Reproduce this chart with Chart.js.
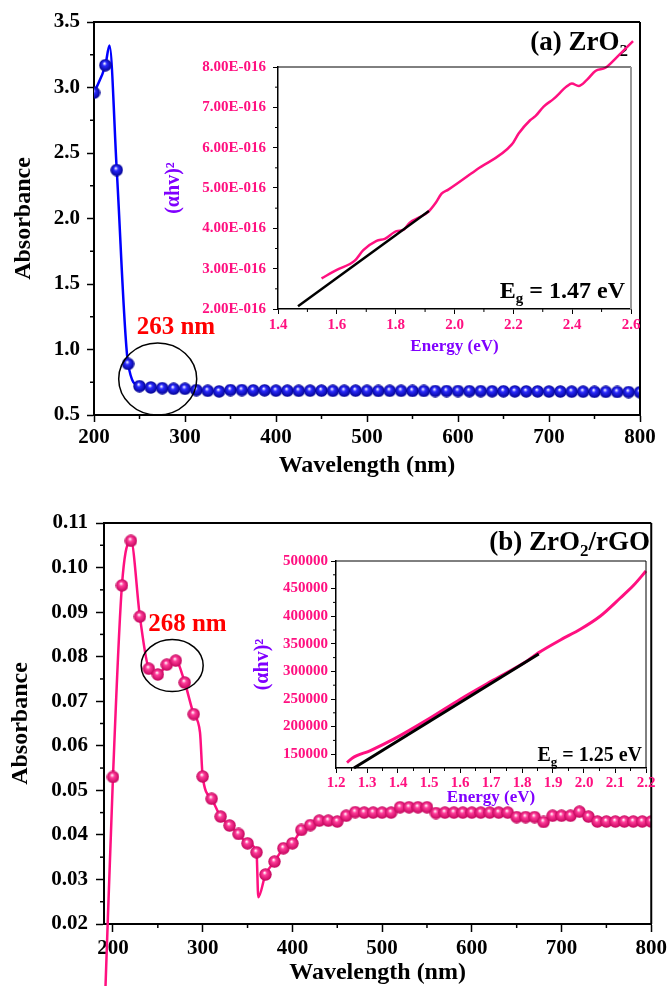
<!DOCTYPE html>
<html>
<head>
<meta charset="utf-8">
<script src="https://cdn.jsdelivr.net/npm/chart.js@4"></script>
<style>
  body { margin: 0; background: #fff; width: 671px; height: 986px; position: relative; overflow: hidden; }
  .box { position: absolute; }
</style>
</head>
<body>
<div class="box" style="left:0;top:0;width:671px;height:490px"><canvas id="main-a"></canvas></div>
<div class="box" style="left:150px;top:40px;width:500px;height:319px"><canvas id="inset-a"></canvas></div>
<div class="box" style="left:0;top:496px;width:671px;height:490px"><canvas id="main-b"></canvas></div>
<div class="box" style="left:240px;top:530px;width:431px;height:278px"><canvas id="inset-b"></canvas></div>
<script>
// ---- data ----
// (a) ZrO2 absorbance, markers every 12.5 nm
const wlA = [200, 212.5, 225, 237.5, 250, 262.5, 275, 287.5, 300, 312.5, 325, 337.5, 350, 362.5, 375, 387.5,
  400, 412.5, 425, 437.5, 450, 462.5, 475, 487.5, 500, 512.5, 525, 537.5, 550, 562.5, 575, 587.5,
  600, 612.5, 625, 637.5, 650, 662.5, 675, 687.5, 700, 712.5, 725, 737.5, 750, 762.5, 775, 787.5, 800];
const absA = [2.96, 3.17, 2.37, 0.89, 0.72, 0.71, 0.705, 0.70, 0.70, 0.69, 0.685, 0.68, 0.69, 0.69, 0.688, 0.688,
  0.686, 0.686, 0.685, 0.686, 0.686, 0.685, 0.685, 0.686, 0.685, 0.684, 0.685, 0.685, 0.684, 0.684, 0.683, 0.683,
  0.683, 0.682, 0.682, 0.681, 0.681, 0.68, 0.68, 0.68, 0.679, 0.679, 0.678, 0.678, 0.677, 0.677, 0.676, 0.675, 0.674];
const lineExtraA = [[217, 3.32]];   // extra points of the curve between markers

// (a) inset: Tauc plot
const inA_E = [1.548, 1.60, 1.661, 1.69, 1.735, 1.763, 1.803, 1.826, 1.848, 1.88, 1.911, 1.935, 1.956, 1.979,
  2.076, 2.195, 2.218, 2.257, 2.275, 2.303, 2.337, 2.382, 2.399, 2.422, 2.45, 2.479, 2.513, 2.553, 2.607];
const inA_val = [2.76, 2.97, 3.20, 3.46, 3.69, 3.74, 3.93, 3.96, 4.14, 4.27, 4.41, 4.62, 4.86, 4.96,
  5.46, 6.08, 6.35, 6.68, 6.78, 7.02, 7.21, 7.52, 7.59, 7.53, 7.68, 7.90, 7.98, 8.25, 8.64].map(v => v * 1e-16);
const fitA_E = [1.468, 1.913];
const fitA_val = [2.07e-16, 4.43e-16];

// (b) ZrO2/rGO absorbance, markers every 10 nm
const wlB = [200, 210, 220, 230, 240, 250, 260, 270, 280, 290, 300, 310, 320, 330, 340, 350, 360, 370, 380, 390,
  400, 410, 420, 430, 440, 450, 460, 470, 480, 490, 500, 510, 520, 530, 540, 550, 560, 570, 580, 590,
  600, 610, 620, 630, 640, 650, 660, 670, 680, 690, 700, 710, 720, 730, 740, 750, 760, 770, 780, 790, 800];
const absB = [0.053, 0.096, 0.106, 0.089, 0.0773, 0.076, 0.0782, 0.0791, 0.0742, 0.0671, 0.0531, 0.0481, 0.0441,
  0.0421, 0.0402, 0.0381, 0.0361, 0.0311, 0.034, 0.037, 0.0381, 0.0411, 0.0422, 0.0432, 0.0432, 0.043,
  0.0443, 0.0451, 0.045, 0.045, 0.045, 0.045, 0.0462, 0.0462, 0.0462, 0.0462, 0.0449, 0.045, 0.045, 0.045,
  0.045, 0.045, 0.045, 0.045, 0.045, 0.044, 0.044, 0.044, 0.0429, 0.0443, 0.0443, 0.0443, 0.0452, 0.0441,
  0.043, 0.043, 0.043, 0.043, 0.043, 0.043, 0.043];
const lineExtraB = [[191.5, 0.005], [297, 0.063], [362, 0.026]];

// (b) inset: Tauc plot
const inB_E = [1.2355, 1.252, 1.311, 1.386, 1.494, 1.601, 1.709, 1.816, 1.854, 1.924, 1.988, 2.053, 2.117,
  2.16, 2.2];
const inB_val = [134900, 142800, 156600, 177200, 212200, 249600, 284600, 319000, 334000, 357000, 376300,
  400400, 433000, 456000, 481900];
const fitB_E = [1.258, 1.854];
const fitB_val = [125000, 331600];

// tick values
const xTicksMain = [200, 300, 400, 500, 600, 700, 800];
const yTicksA = [0.5, 1.0, 1.5, 2.0, 2.5, 3.0, 3.5];
const yTicksB = [0.02, 0.03, 0.04, 0.05, 0.06, 0.07, 0.08, 0.09, 0.10, 0.11];
const xTicksInA = [1.4, 1.6, 1.8, 2.0, 2.2, 2.4, 2.6];
const yTicksInA = [2e-16, 3e-16, 4e-16, 5e-16, 6e-16, 7e-16, 8e-16];
const xTicksInB = [1.2, 1.3, 1.4, 1.5, 1.6, 1.7, 1.8, 1.9, 2.0, 2.1, 2.2];
const yTicksInB = [150000, 200000, 250000, 300000, 350000, 400000, 450000, 500000];

// ---- styling ----
const FONT = "'Times New Roman', 'Liberation Serif', serif";
const PINK = '#ff1080';
const VIOLET = '#8000ff';
Chart.defaults.font.family = FONT;
Chart.defaults.font.weight = 'bold';
Chart.defaults.color = '#000';
Chart.defaults.animation = false;

const xy = (xs, ys) => xs.map((x, i) => ({x, y: ys[i]}));
const withExtra = (xs, ys, extra) =>
  xy(xs, ys).concat(extra.map(([x, y]) => ({x, y}))).sort((a, b) => a.x - b.x);

// shaded ball marker
function sphere(color, dark, d) {
  const c = document.createElement('canvas');
  c.width = c.height = d;
  const g = c.getContext('2d');
  const r = d / 2;
  const grad = g.createRadialGradient(r * 0.85, r * 0.7, 0.3, r, r, r);
  grad.addColorStop(0, '#ffffff');
  grad.addColorStop(0.3, color);
  grad.addColorStop(1, dark);
  g.fillStyle = grad;
  g.beginPath();
  g.arc(r, r, r - 0.3, 0, Math.PI * 2);
  g.fill();
  return c;
}

function fmtE(v) {
  const [m, e] = v.toExponential(2).split('e');
  const n = Math.abs(parseInt(e, 10));
  return m + 'E' + (parseInt(e, 10) < 0 ? '-' : '+') + String(n).padStart(3, '0');
}

function axis(o) {
  return {
    type: 'linear', min: o.min, max: o.max,
    border: {display: true, color: '#000', width: o.bw},
    grid: {display: true, drawOnChartArea: false, drawTicks: true, tickLength: o.tl, tickWidth: o.tw, tickColor: '#000'},
    afterBuildTicks: s => { s.ticks = o.ticks.map(v => ({value: v})); },
    afterFit: s => { if (o.w) s.width = o.w; if (o.h) s.height = o.h; },
    ticks: {font: {size: o.fs, weight: 'bold'}, color: o.color || '#000', padding: o.pad,
      callback: o.fmt, maxRotation: 0, autoSkip: false},
    title: {display: true, text: o.title, color: o.tcolor || '#000',
      font: {size: o.tfs, weight: 'bold', lineHeight: 1}, padding: o.tpad}
  };
}

// frame on top/right plus minor ticks halfway between major ones
const frameTicks = {
  id: 'frameTicks',
  afterDraw(chart, args, opts) {
    const {ctx, chartArea: a} = chart;
    ctx.save();
    ctx.lineWidth = opts.topWidth;
    ctx.strokeStyle = opts.topColor;
    ctx.beginPath(); ctx.moveTo(a.left, a.top); ctx.lineTo(a.right, a.top); ctx.stroke();
    ctx.lineWidth = opts.rightWidth;
    ctx.strokeStyle = opts.rightColor;
    ctx.beginPath(); ctx.moveTo(a.right, a.top); ctx.lineTo(a.right, a.bottom); ctx.stroke();
    ctx.strokeStyle = '#000';
    ctx.lineWidth = opts.tickWidth;
    for (const id of ['x', 'y']) {
      const s = chart.scales[id];
      const vals = s.ticks.map(t => t.value);
      for (let i = 0; i < vals.length - 1; i++) {
        const p = s.getPixelForValue((vals[i] + vals[i + 1]) / 2);
        ctx.beginPath();
        if (id === 'x') { ctx.moveTo(p, a.bottom); ctx.lineTo(p, a.bottom + opts.minorLen); }
        else { ctx.moveTo(a.left, p); ctx.lineTo(a.left - opts.minorLen, p); }
        ctx.stroke();
      }
    }
    ctx.restore();
  }
};

function drawRich(ctx, t) {
  let total = 0;
  for (const p of t.parts) {
    ctx.font = 'bold ' + p.size + 'px ' + FONT;
    p.w = ctx.measureText(p.text).width;
    total += p.w;
  }
  let x = t.align === 'right' ? t.x - total : t.x;
  ctx.fillStyle = t.color || '#000';
  ctx.textBaseline = 'alphabetic';
  ctx.textAlign = 'left';
  for (const p of t.parts) {
    ctx.font = 'bold ' + p.size + 'px ' + FONT;
    ctx.fillText(p.text, x, t.y + (p.dy || 0));
    x += p.w;
  }
}

// circle around the band, wavelength note, panel labels
const decor = {
  id: 'decor',
  afterDatasetsDraw(chart, args, opts) {
    const {ctx, scales} = chart;
    ctx.save();
    if (opts.ellipse) {
      const e = opts.ellipse;
      ctx.beginPath();
      ctx.ellipse(scales.x.getPixelForValue(e.x), scales.y.getPixelForValue(e.y), e.rx, e.ry, 0, 0, Math.PI * 2);
      ctx.lineWidth = 1.5;
      ctx.strokeStyle = '#000';
      ctx.stroke();
    }
    if (opts.note) {
      const n = opts.note;
      ctx.font = 'bold ' + n.size + 'px ' + FONT;
      ctx.fillStyle = n.color;
      ctx.textAlign = 'center';
      ctx.textBaseline = 'middle';
      ctx.fillText(n.text, scales.x.getPixelForValue(n.x), scales.y.getPixelForValue(n.y));
    }
    for (const t of opts.texts || []) drawRich(ctx, t);
    ctx.restore();
  }
};

const common = {
  responsive: true,
  maintainAspectRatio: false,
  plugins: {legend: {display: false}, tooltip: {enabled: false}}
};

// (a) main
new Chart(document.getElementById('main-a').getContext('2d'), {
  type: 'line',
  data: {
    datasets: [{
      data: xy(wlA, absA), showLine: false, order: 0,
      pointStyle: sphere('#2a2aff', '#00008c', 13), pointRadius: 6.5
    }, {
      data: withExtra(wlA, absA, lineExtraA), order: 1,
      borderColor: '#0000ff', borderWidth: 2.5, pointRadius: 0, cubicInterpolationMode: 'monotone'
    }]
  },
  options: {
    ...common,
    layout: {padding: {top: 22, right: 31, left: 0, bottom: 0}},
    scales: {
      x: axis({min: 200, max: 800, ticks: xTicksMain, bw: 2, tl: 7, tw: 1.5, fs: 21, pad: 3, h: 75,
        fmt: v => String(v), title: 'Wavelength (nm)', tfs: 24, tpad: {bottom: 12}}),
      y: axis({min: 0.5, max: 3.5, ticks: yTicksA, bw: 2, tl: 7, tw: 1.5, fs: 21, pad: 7, w: 94,
        fmt: v => v.toFixed(1), title: 'Absorbance', tfs: 24, tpad: {top: 12}})
    },
    plugins: {
      ...common.plugins,
      frameTicks: {topWidth: 2, topColor: '#000', rightWidth: 2, rightColor: '#000', tickWidth: 1.5, minorLen: 4},
      decor: {
        ellipse: {x: 270, y: 0.775, rx: 39, ry: 36},
        note: {text: '263 nm', x: 290, y: 1.17, size: 25, color: '#ff0000'},
        texts: [{align: 'right', x: 628, y: 50, parts: [
          {text: '(a) ZrO', size: 27}, {text: '2', size: 17, dy: 6}]}]
      }
    }
  },
  plugins: [frameTicks, decor]
});

// (a) inset
new Chart(document.getElementById('inset-a').getContext('2d'), {
  type: 'line',
  data: {
    datasets: [{
      data: xy(fitA_E, fitA_val), order: 0, clip: false,
      borderColor: '#000', borderWidth: 2.5, pointRadius: 0
    }, {
      data: xy(inA_E, inA_val), order: 1, clip: false,
      borderColor: PINK, borderWidth: 2.5, pointRadius: 0, cubicInterpolationMode: 'monotone'
    }]
  },
  options: {
    ...common,
    layout: {padding: {top: 27, right: 19, left: 0, bottom: 0}},
    scales: {
      x: axis({min: 1.4, max: 2.6, ticks: xTicksInA, bw: 1.5, tl: 5, tw: 1, fs: 15, pad: 2, h: 50, color: PINK,
        fmt: v => v.toFixed(1), title: 'Energy (eV)', tcolor: VIOLET, tfs: 17, tpad: {bottom: 3.5}}),
      y: axis({min: 2e-16, max: 8e-16, ticks: yTicksInA, bw: 1.5, tl: 5, tw: 1, fs: 15, pad: 7, w: 128, color: PINK,
        fmt: v => fmtE(v), title: '(αhv)²', tcolor: VIOLET, tfs: 20, tpad: {top: 14}})
    },
    plugins: {
      ...common.plugins,
      frameTicks: {topWidth: 1, topColor: '#000', rightWidth: 2, rightColor: '#9a9a9a', tickWidth: 1, minorLen: 3},
      decor: {
        texts: [{align: 'right', x: 475, y: 258, parts: [
          {text: 'E', size: 24}, {text: 'g', size: 15, dy: 5}, {text: ' = 1.47 eV', size: 24}]}]
      }
    }
  },
  plugins: [frameTicks, decor]
});

// (b) main
new Chart(document.getElementById('main-b').getContext('2d'), {
  type: 'line',
  data: {
    datasets: [{
      data: xy(wlB, absB), showLine: false, order: 0,
      pointStyle: sphere('#ff3d9a', '#c00058', 13), pointRadius: 6.5
    }, {
      data: withExtra(wlB, absB, lineExtraB), order: 1, clip: false,
      borderColor: PINK, borderWidth: 2.5, pointRadius: 0, cubicInterpolationMode: 'monotone'
    }]
  },
  options: {
    ...common,
    layout: {padding: {top: 27, right: 17, left: 0, bottom: 0}},
    scales: {
      x: axis({min: 190, max: 800, ticks: xTicksMain, bw: 2, tl: 8, tw: 1.5, fs: 21, pad: 4, h: 62,
        fmt: v => String(v), title: 'Wavelength (nm)', tfs: 24, tpad: {bottom: 1}}),
      y: axis({min: 0.02, max: 0.11, ticks: yTicksB, bw: 2, tl: 8, tw: 1.5, fs: 21, pad: 8, w: 104,
        fmt: v => v.toFixed(2), title: 'Absorbance', tfs: 24, tpad: {top: 9}})
    },
    plugins: {
      ...common.plugins,
      frameTicks: {topWidth: 2, topColor: '#000', rightWidth: 2, rightColor: '#000', tickWidth: 1.5, minorLen: 4},
      decor: {
        ellipse: {x: 266, y: 0.078, rx: 31, ry: 26},
        note: {text: '268 nm', x: 283, y: 0.0871, size: 25, color: '#ff0000'},
        texts: [{align: 'right', x: 650, y: 54, parts: [
          {text: '(b) ZrO', size: 27}, {text: '2', size: 17, dy: 6}, {text: '/rGO', size: 27}]}]
      }
    }
  },
  plugins: [frameTicks, decor]
});

// (b) inset
new Chart(document.getElementById('inset-b').getContext('2d'), {
  type: 'line',
  data: {
    datasets: [{
      data: xy(fitB_E, fitB_val), order: 0, clip: false,
      borderColor: '#000', borderWidth: 3, pointRadius: 0
    }, {
      data: xy(inB_E, inB_val), order: 1, clip: false,
      borderColor: PINK, borderWidth: 3, pointRadius: 0, cubicInterpolationMode: 'monotone'
    }]
  },
  options: {
    ...common,
    layout: {padding: {top: 31, right: 25, left: 0, bottom: 0}},
    scales: {
      x: axis({min: 1.2, max: 2.2, ticks: xTicksInB, bw: 1.5, tl: 5, tw: 1, fs: 15, pad: 1, h: 40, color: PINK,
        fmt: v => v.toFixed(1), title: 'Energy (eV)', tcolor: VIOLET, tfs: 17, tpad: {bottom: 1.5}}),
      y: axis({min: 125000, max: 500000, ticks: yTicksInB, bw: 1.5, tl: 5, tw: 1, fs: 15, pad: 3, w: 96, color: PINK,
        fmt: v => String(v), title: '(αhv)²', tcolor: VIOLET, tfs: 20, tpad: {top: 13}})
    },
    plugins: {
      ...common.plugins,
      frameTicks: {topWidth: 1, topColor: '#000', rightWidth: 1, rightColor: '#000', tickWidth: 1, minorLen: 3},
      decor: {
        texts: [{align: 'right', x: 402, y: 231, parts: [
          {text: 'E', size: 20}, {text: 'g', size: 13, dy: 5}, {text: ' = 1.25 eV', size: 20}]}]
      }
    }
  },
  plugins: [frameTicks, decor]
});
</script>
</body>
</html>
